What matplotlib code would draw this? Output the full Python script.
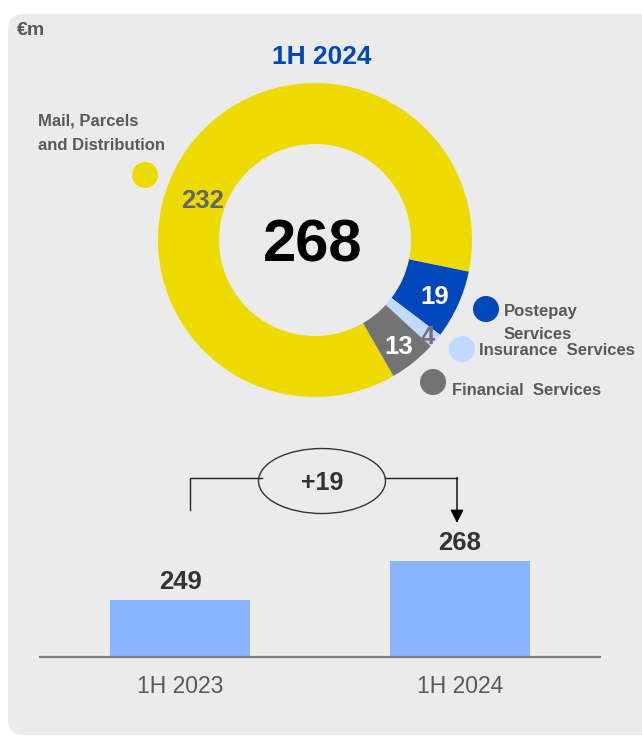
import numpy as np
import matplotlib
matplotlib.use('Agg')
import matplotlib.pyplot as plt
from matplotlib.patches import FancyBboxPatch, Ellipse, Circle

plt.rcParams['font.family'] = ['Liberation Sans', 'DejaVu Sans']

# data
seg_names = ['Mail, Parcels\nand Distribution', 'Postepay\nServices',
             'Insurance  Services', 'Financial  Services']
seg_values = [232, 19, 4, 13]
seg_colors = ['#eddb00', '#0047bb', '#c2d9ff', '#737373']
seg_label_colors = ['#666666', 'white', '#737373', 'white']
donut_title = '1H 2024'

periods = ['1H 2023', '1H 2024']
totals = [249, 268]

W, H = 642, 737
fig = plt.figure(figsize=(W / 100, H / 100), dpi=100)
bg = fig.add_axes([0, 0, 1, 1])


def py(y):
    return H - y


grey_txt = '#595959'

bg.add_patch(FancyBboxPatch((8, py(735)), 720, 721,
                            boxstyle='round,pad=0,rounding_size=16',
                            fc='#ebebeb', ec='none'))

bg.text(17, py(30), '€m', fontsize=14, fontweight='bold', color=grey_txt,
        ha='left', va='center')
bg.text(322, py(57), donut_title, fontsize=19, fontweight='bold',
        color='#0047bb', ha='center', va='center')

# donut
cx, cy, R = 315, py(240), 157
wedges, _ = bg.pie(seg_values, colors=seg_colors, startangle=-60,
                   counterclock=False, radius=R, center=(cx, cy), frame=True,
                   wedgeprops=dict(width=61, edgecolor='none'))

lab_r = [120, 131, 147, 134]
for i, w in enumerate(wedges):
    ang = (w.theta1 + w.theta2) / 2 if i > 0 else 160
    a = np.deg2rad(ang)
    bg.text(cx + lab_r[i] * np.cos(a), cy + lab_r[i] * np.sin(a),
            str(seg_values[i]), fontsize=18.5, fontweight='bold',
            color=seg_label_colors[i], ha='center', va='center_baseline')

bg.text(cx - 2, cy, str(sum(seg_values)), fontsize=43, fontweight='bold',
        color='black', ha='center', va='center_baseline')

# legend dots
dot_xy = [(145, 175), (486, 309), (462, 349), (433, 382)]
txt_xy = [(38, 133, 1.8), (504, 323, 1.7), (479, 350, 1.2), (452, 390, 1.2)]
for i in range(4):
    bg.add_patch(Circle((dot_xy[i][0], py(dot_xy[i][1])), 13,
                        fc=seg_colors[i], ec='none'))
    tx, ty, ls = txt_xy[i]
    bg.text(tx, py(ty), seg_names[i], fontsize=12, fontweight='bold',
            color=grey_txt, ha='left', va='center', linespacing=ls)

# change bracket
bg.plot([190, 190, 262], [py(510), py(478), py(478)], color='#222222', lw=1)
bg.plot([385, 457], [py(478), py(478)], color='#222222', lw=1)
bg.annotate('', xy=(457, py(523)), xytext=(457, py(477.5)),
            arrowprops=dict(arrowstyle='-|>,head_length=0.8,head_width=0.4',
                            color='black', lw=1, shrinkA=0, shrinkB=0))
bg.add_patch(Ellipse((322, py(481)), 127, 65, fc='#ebebeb', ec='#333333',
                     lw=1))
bg.text(322, py(481), f'+{totals[1] - totals[0]}', fontsize=18,
        fontweight='bold', color='#333333', ha='center',
        va='center_baseline')

bg.set_xlim(0, W)
bg.set_ylim(0, H)
bg.set_aspect('auto')
bg.axis('off')

# bars
ax = fig.add_axes([40 / W, (H - 657) / H, 560 / W, (657 - 440) / H])
ax.patch.set_alpha(0)
ax.bar(range(len(periods)), totals, width=0.5, color='#8ab4ff')
ax.set_xlim(-0.5, 1.5)
ax.set_ylim(221, 221 + 217 / 2.05)
for i, v in enumerate(totals):
    ax.annotate(str(v), (i, v), xytext=(0, 4), textcoords='offset points',
                ha='center', va='bottom', fontsize=18.5, fontweight='bold',
                color='#333333')
ax.set_xticks(range(len(periods)))
ax.set_xticklabels(periods, fontsize=16.5, color=grey_txt)
ax.tick_params(axis='x', length=0, pad=13)
ax.set_yticks([])
for s in ['top', 'left', 'right']:
    ax.spines[s].set_visible(False)
ax.spines['bottom'].set_color('#808080')
ax.spines['bottom'].set_linewidth(1.6)

fig.savefig('out.png', dpi=100)
